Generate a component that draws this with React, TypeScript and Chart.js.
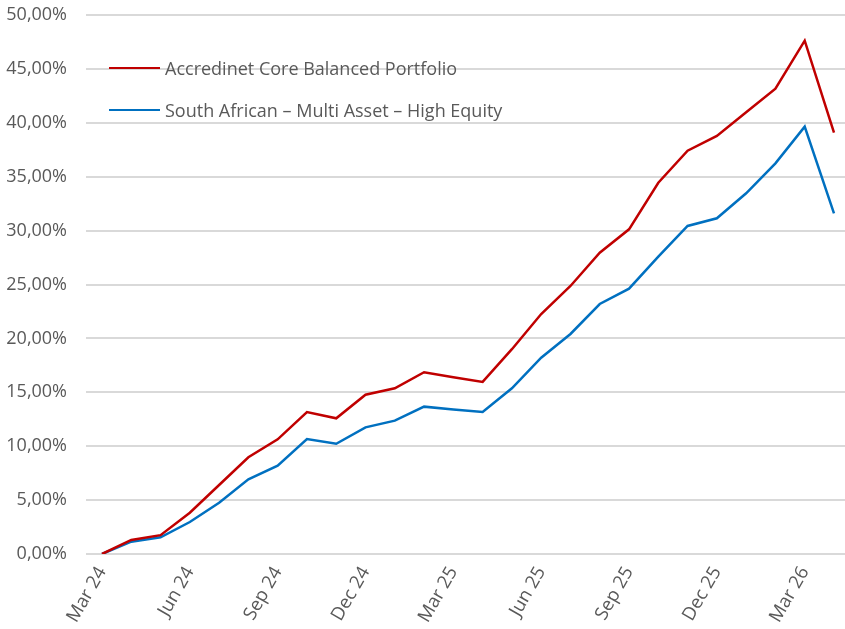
import React, { useEffect, useRef } from "react";
import { Chart, registerables } from "chart.js";
Chart.register(...registerables);

const months = [
  "Mar 24", "Apr 24", "May 24", "Jun 24", "Jul 24", "Aug 24", "Sep 24", "Oct 24", "Nov 24",
  "Dec 24", "Jan 25", "Feb 25", "Mar 25", "Apr 25", "May 25", "Jun 25", "Jul 25", "Aug 25",
  "Sep 25", "Oct 25", "Nov 25", "Dec 25", "Jan 26", "Feb 26", "Mar 26", "Apr 26",
];
const portfolio = [
  0, 1.3, 1.75, 3.83, 6.4, 8.97, 10.64, 13.17, 12.59, 14.78, 15.37, 16.86, 16.4, 15.96,
  19.0, 22.26, 24.86, 27.95, 30.12, 34.44, 37.41, 38.78, 40.97, 43.16, 47.62, 39.08,
];
const sector = [
  0, 1.14, 1.55, 2.97, 4.76, 6.93, 8.19, 10.67, 10.23, 11.75, 12.37, 13.67, 13.4, 13.17,
  15.37, 18.21, 20.41, 23.19, 24.61, 27.58, 30.43, 31.14, 33.46, 36.24, 39.64, 31.6,
];
const seriesNames = [
  "Accredinet Core Balanced Portfolio",
  "South African – Multi Asset – High Equity",
];
const seriesColors = ["#C00000", "#0070C0"];

const FONT = "'Open Sans', sans-serif";
const TEXT = "#595959";
const SIZE = 18;

export default function App() {
  const ref = useRef<HTMLCanvasElement | null>(null);

  useEffect(() => {
    document.body.style.margin = "0";
    const canvas = ref.current;
    if (!canvas) return;
    const chart = new Chart(canvas, {
      type: "line",
      data: {
        datasets: [portfolio, sector].map((vals, k) => ({
          label: seriesNames[k],
          data: vals.map((v, i) => ({ x: i, y: v })),
          borderColor: seriesColors[k],
          backgroundColor: seriesColors[k],
          borderWidth: 2.5,
          pointRadius: 0,
          tension: 0,
          fill: false,
        })),
      },
      options: {
        responsive: false,
        maintainAspectRatio: false,
        animation: false,
        layout: { padding: { top: 15, right: 0, left: 0, bottom: 0 } },
        plugins: { legend: { display: false }, tooltip: { enabled: false } },
        scales: {
          x: {
            type: "linear",
            min: -0.546,
            max: 25.376,
            grid: { display: false, drawTicks: false },
            border: { display: false },
            ticks: {
              stepSize: 3,
              includeBounds: false,
              autoSkip: false,
              maxRotation: 60,
              minRotation: 60,
              padding: 9,
              color: TEXT,
              font: { family: FONT, size: 18.5 },
              callback: (v: any) => (Number.isInteger(v) ? months[v] ?? "" : ""),
            },
            afterFit: (s: any) => {
              s.height = 75;
            },
          },
          y: {
            min: 0,
            max: 50,
            grid: { color: "#d9d9d9", lineWidth: 2, drawTicks: false },
            border: { display: false },
            ticks: {
              stepSize: 5,
              padding: 19,
              color: TEXT,
              font: { family: FONT, size: SIZE },
              callback: (v: any) => Number(v).toFixed(2).replace(".", ",") + "%",
            },
            afterFit: (s: any) => {
              s.width = 86;
              s.paddingTop = 0;
              s.paddingBottom = 0;
            },
          },
        },
      },
    });
    return () => chart.destroy();
  }, []);

  return (
    <div style={{ position: "relative", width: 845, height: 629, background: "#fff" }}>
      <canvas ref={ref} width={845} height={629} style={{ display: "block" }} />
      {seriesNames.map((name, k) => (
        <div
          key={name}
          style={{
            position: "absolute",
            left: 109,
            top: [68, 110][k] - 12,
            height: 24,
            display: "flex",
            alignItems: "center",
            fontFamily: FONT,
            fontSize: SIZE,
            color: TEXT,
            whiteSpace: "nowrap",
          }}
        >
          <span
            style={{
              display: "inline-block",
              width: 51,
              height: 2.5,
              background: seriesColors[k],
              marginRight: 5,
            }}
          />
          {name}
        </div>
      ))}
    </div>
  );
}
